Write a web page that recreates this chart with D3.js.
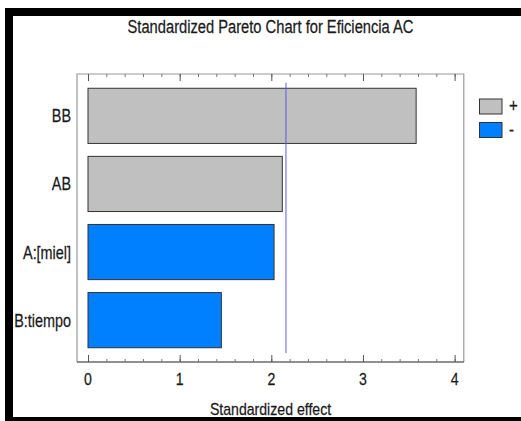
<!DOCTYPE html>
<html><head><meta charset="utf-8">
<script src="https://cdn.jsdelivr.net/npm/d3@7"></script>
<style>html,body{margin:0;padding:0;background:#fff;} svg{display:block;}</style>
</head><body>
<svg id="c" width="521" height="421"></svg>
<script>
const categories = ["BB", "AB", "A:[miel]", "B:tiempo"];
const effects = [3.58, 2.12, 2.03, 1.455];
const signs = ["+", "+", "-", "-"];
const criticalValue = 2.16;
const xTicks = [0, 1, 2, 3, 4];
const legendLabels = ["+", "-"];
const title = "Standardized Pareto Chart for Eficiencia AC";
const xTitle = "Standardized effect";

const colors = {"+": "#c0c0c0", "-": "#0080ff"};
const FONT = "Liberation Sans, Arial, sans-serif";

const svg = d3.select("#c");
// outer black frame
svg.append("rect").attr("x",5).attr("y",8).attr("width",516).attr("height",8).attr("fill","#000");
svg.append("rect").attr("x",5).attr("y",8).attr("width",8).attr("height",413).attr("fill","#000");
svg.append("rect").attr("x",5).attr("y",417).attr("width",516).attr("height",4).attr("fill","#000");

const x = d3.scaleLinear().domain([-0.12, 4.1]).range([77, 463.8]);
const y = d3.scaleBand().domain(categories).range([81.8, 354.2]).paddingInner(0.19).paddingOuter(0.095);
const plotTop = 74, plotBottom = 362;

function txt(g, s, px, py, size, anchor, sx) {
  return g.append("g").attr("transform", `translate(${px},${py}) scale(${sx},1)`)
    .append("text").attr("font-family", FONT).attr("font-size", size)
    .attr("text-anchor", anchor).attr("fill", "#1a1a1a")
    .attr("stroke", "#1a1a1a").attr("stroke-width", 0.25).text(s);
}

// plot frame (gray left/top/right)
svg.append("path").attr("d", `M${x.range()[0]},${plotBottom}V${plotTop}H${x.range()[1]}V${plotBottom}`)
  .attr("fill","none").attr("stroke","#999").attr("stroke-width",1.2);

// bars
svg.append("g").selectAll("rect").data(categories).join("rect")
  .attr("x", x(0)).attr("y", d => y(d))
  .attr("width", (d,i) => x(effects[i]) - x(0)).attr("height", y.bandwidth())
  .attr("fill", (d,i) => colors[signs[i]]).attr("stroke", "#333").attr("stroke-width", 1);

// critical line
svg.append("line").attr("x1", x(criticalValue)).attr("x2", x(criticalValue))
  .attr("y1", 82.7).attr("y2", 353).attr("stroke", "#5a5ae6").attr("stroke-width", 1);

// bottom axis
const minor = d3.range(0, 4.0001, 0.2);
const axB = d3.axisBottom(x).tickValues(minor).tickSize(-3).tickFormat("");
const gB = svg.append("g").attr("transform", `translate(0,${plotBottom})`).call(axB);
gB.select(".domain").attr("d", `M${x.range()[0]},0H${x.range()[1]}`).attr("stroke","#222").attr("stroke-width",1.2);
gB.selectAll(".tick line").attr("stroke","#777");
const axBM = d3.axisBottom(x).tickValues(xTicks).tickSize(-7).tickFormat("");
const gBM = svg.append("g").attr("transform", `translate(0,${plotBottom})`).call(axBM);
gBM.select(".domain").remove();
gBM.selectAll(".tick line").attr("stroke","#555");
// top ticks
const gT = svg.append("g").attr("transform", `translate(0,${plotTop})`).call(d3.axisTop(x).tickValues(minor).tickSize(-3).tickFormat(""));
gT.select(".domain").remove(); gT.selectAll(".tick line").attr("stroke","#777");
const gTM = svg.append("g").attr("transform", `translate(0,${plotTop})`).call(d3.axisTop(x).tickValues(xTicks).tickSize(-7).tickFormat(""));
gTM.select(".domain").remove(); gTM.selectAll(".tick line").attr("stroke","#555");

// tick labels
xTicks.forEach(t => txt(svg, String(t), x(t), 385, 16.8, "middle", 0.84));
// y labels
categories.forEach(c => txt(svg, c, 71, y(c) + y.bandwidth()/2 + 6.5, 18, "end", 0.8));
// titles
txt(svg, title, 270.5, 33.3, 17.5, "middle", 0.84);
txt(svg, xTitle, 270.5, 415, 16.8, "middle", 0.84);

// legend
legendLabels.forEach((l, i) => {
  const ly = 99 + i * 23.5;
  svg.append("rect").attr("x", 479.5).attr("y", ly).attr("width", 22.5).attr("height", 15)
    .attr("fill", colors[l]).attr("stroke", "#333").attr("stroke-width", 1);
  txt(svg, l, 509, ly + 13, 18, "start", 0.84);
});
</script>
</body></html>
